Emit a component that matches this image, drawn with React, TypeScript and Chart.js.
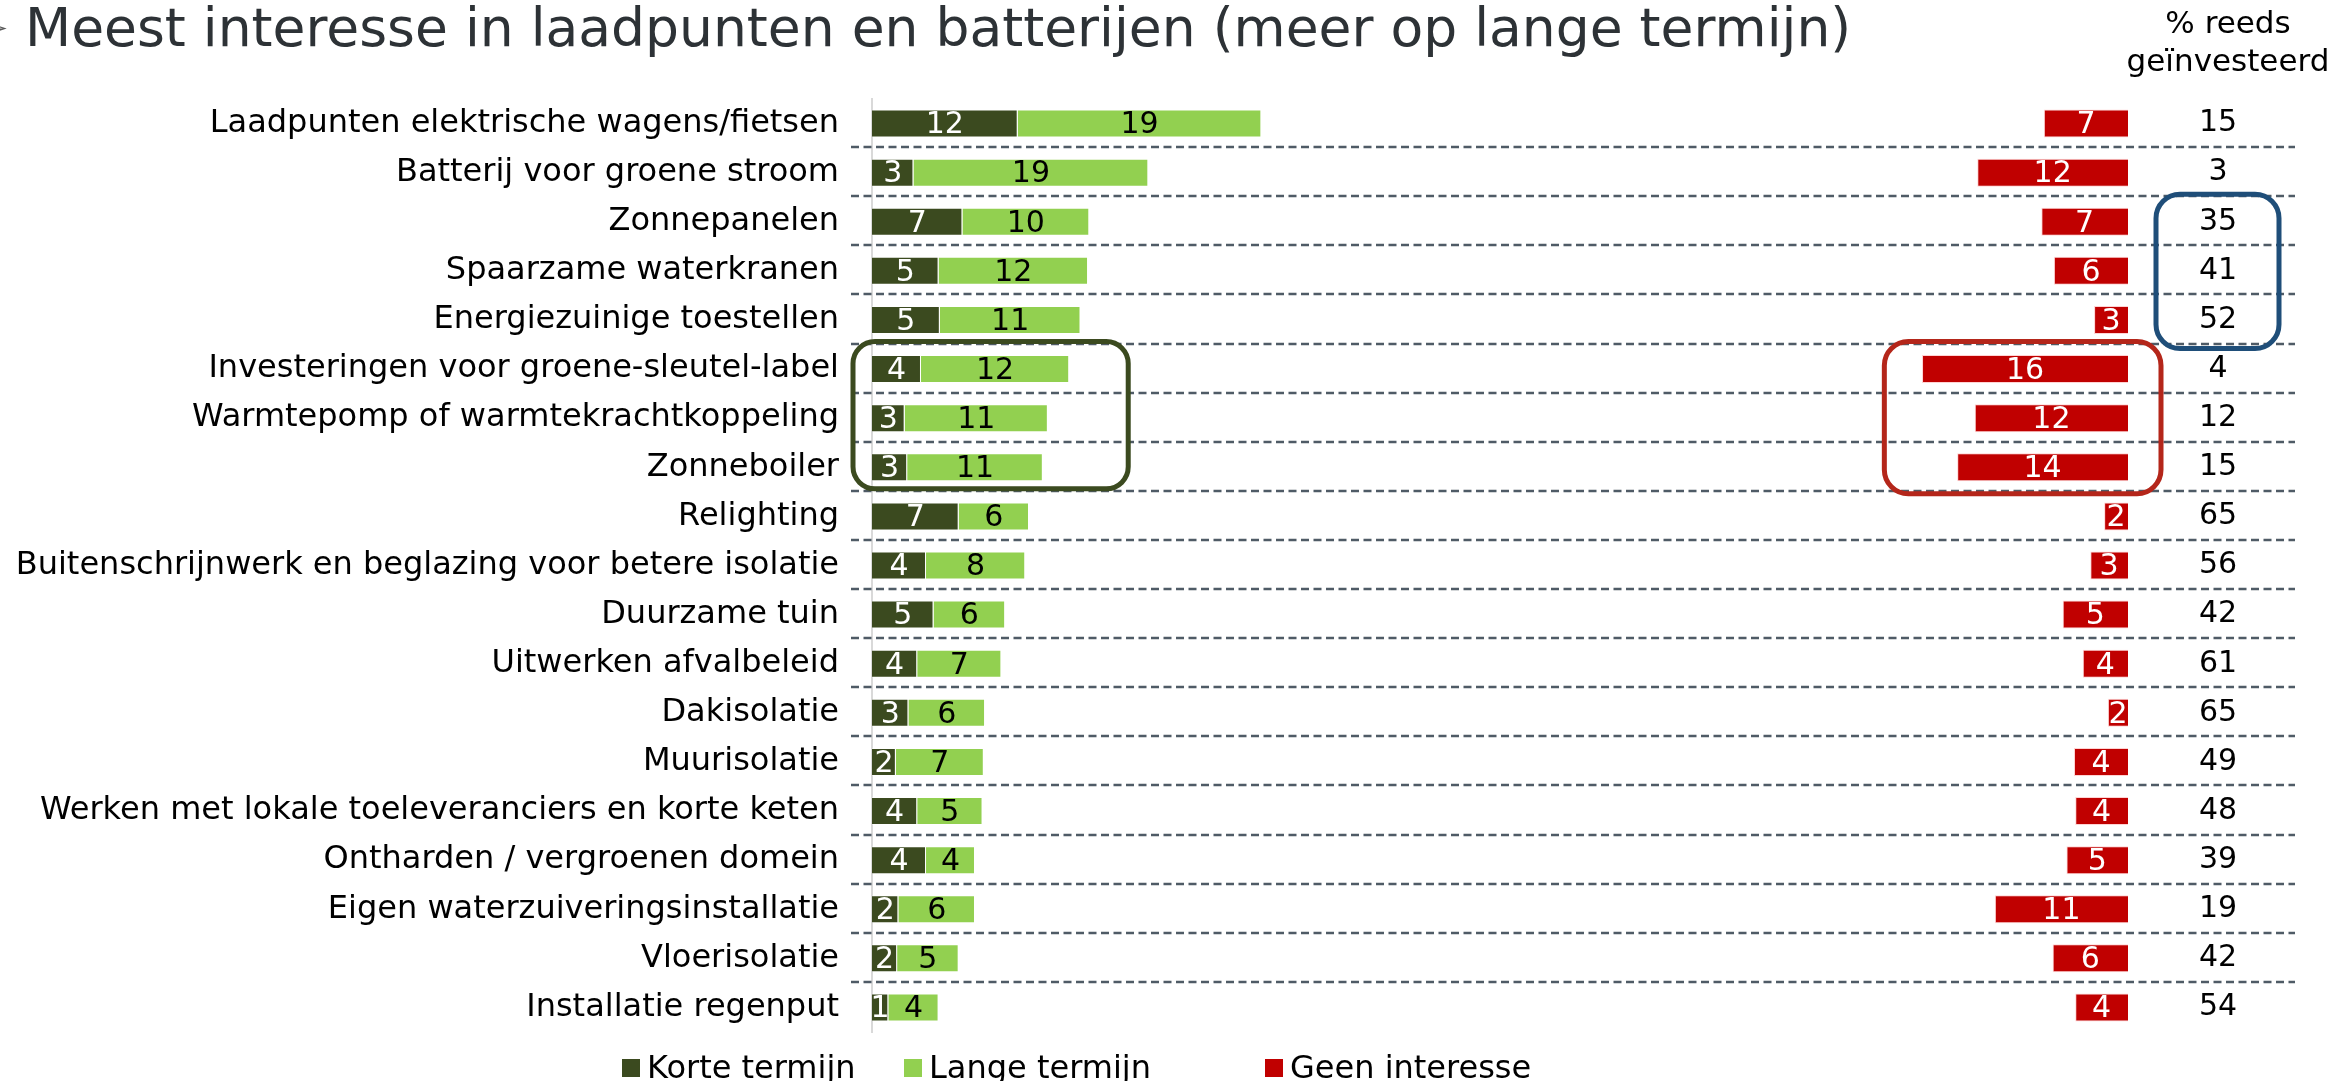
import React, { useEffect, useRef } from 'react';
import { Chart, registerables } from 'chart.js';

Chart.register(...registerables);

const categories = [
  'Laadpunten elektrische wagens/fietsen',
  'Batterij voor groene stroom',
  'Zonnepanelen',
  'Spaarzame waterkranen',
  'Energiezuinige toestellen',
  'Investeringen voor groene-sleutel-label',
  'Warmtepomp of warmtekrachtkoppeling',
  'Zonneboiler',
  'Relighting',
  'Buitenschrijnwerk en beglazing voor betere isolatie',
  'Duurzame tuin',
  'Uitwerken afvalbeleid',
  'Dakisolatie',
  'Muurisolatie',
  'Werken met lokale toeleveranciers en korte keten',
  'Ontharden / vergroenen domein',
  'Eigen waterzuiveringsinstallatie',
  'Vloerisolatie',
  'Installatie regenput',
];

const korteTermijn = [11.6, 3.3, 7.2, 5.3, 5.4, 3.9, 2.6, 2.8, 6.9, 4.3, 4.9, 3.6, 2.9, 1.9, 3.6, 4.3, 2.1, 2.0, 1.3];
const langeTermijn = [19.4, 18.7, 10.1, 11.9, 11.2, 11.8, 11.4, 10.8, 5.6, 7.9, 5.7, 6.7, 6.1, 7.0, 5.2, 3.9, 6.1, 4.9, 4.0];
const geenInteresse = [6.7, 12.0, 6.9, 5.9, 2.7, 16.4, 12.2, 13.6, 1.9, 3.0, 5.2, 3.6, 1.6, 4.3, 4.2, 4.9, 10.6, 6.0, 4.2];
const reedsGeinvesteerd = [15, 3, 35, 41, 52, 4, 12, 15, 65, 56, 42, 61, 65, 49, 48, 39, 19, 42, 54];

const seriesNames = ['Korte termijn', 'Lange termijn', 'Geen interesse'];
const titleText = 'Meest interesse in laadpunten en batterijen (meer op lange termijn)';
const headerLines = ['% reeds', 'geïnvesteerd'];

const DARK = '#3B4A1F';
const LIGHT = '#92D050';
const RED = '#C00000';
const seriesColors = [DARK, LIGHT, RED];
const valueTextColors = ['#FFFFFF', '#000000', '#FFFFFF'];
const FONT = '"DejaVu Sans", Verdana, sans-serif';

function roundRectPath(ctx: CanvasRenderingContext2D, x: number, y: number, w: number, h: number, r: number) {
  ctx.beginPath();
  ctx.moveTo(x + r, y);
  ctx.lineTo(x + w - r, y);
  ctx.arcTo(x + w, y, x + w, y + r, r);
  ctx.lineTo(x + w, y + h - r);
  ctx.arcTo(x + w, y + h, x + w - r, y + h, r);
  ctx.lineTo(x + r, y + h);
  ctx.arcTo(x, y + h, x, y + h - r, r);
  ctx.lineTo(x, y + r);
  ctx.arcTo(x, y, x + r, y, r);
  ctx.closePath();
}

const decorations = {
  id: 'decorations',
  beforeDatasetsDraw(chart: any) {
    const { ctx, chartArea } = chart;
    const yS = chart.scales.y;
    ctx.save();
    ctx.strokeStyle = '#4F5B66';
    ctx.lineWidth = 2.5;
    ctx.setLineDash([8, 4.5]);
    for (let i = 0; i < categories.length - 1; i++) {
      const yy = Math.round((yS.getPixelForValue(i) + yS.getPixelForValue(i + 1)) / 2 - 1);
      ctx.beginPath();
      ctx.moveTo(chartArea.left - 21, yy);
      ctx.lineTo(chartArea.right + 167, yy);
      ctx.stroke();
    }
    ctx.restore();
  },
  afterDatasetsDraw(chart: any) {
    const { ctx, chartArea } = chart;
    const yS = chart.scales.y;
    const xS = chart.scales.x;
    const x2S = chart.scales.x2;
    ctx.save();
    ctx.font = `30px ${FONT}`;
    ctx.textAlign = 'center';
    ctx.textBaseline = 'middle';
    chart.data.datasets.forEach((ds: any, di: number) => {
      const meta = chart.getDatasetMeta(di);
      meta.data.forEach((el: any, i: number) => {
        const p = el.getCenterPoint();
        ctx.fillStyle = valueTextColors[di];
        ctx.fillText(String(Math.round(ds.data[i])), p.x, p.y + 2);
      });
    });
    ctx.restore();

    const half = (yS.getPixelForValue(1) - yS.getPixelForValue(0)) / 2;
    ctx.save();
    ctx.lineWidth = 5;
    {
      const left = xS.getPixelForValue(0) - 19;
      const right = xS.getPixelForValue(20.4);
      const top = yS.getPixelForValue(5) - half - 3;
      const bottom = yS.getPixelForValue(7) + half - 3;
      ctx.strokeStyle = '#3B4A1F';
      roundRectPath(ctx, left, top, right - left, bottom - top, 22);
      ctx.stroke();
    }
    {
      const left = x2S.getPixelForValue(19.4);
      const right = x2S.getPixelForValue(0) + 33;
      const top = yS.getPixelForValue(5) - half - 3;
      const bottom = yS.getPixelForValue(7) + half + 2;
      ctx.strokeStyle = '#B4261A';
      roundRectPath(ctx, left, top, right - left, bottom - top, 24);
      ctx.stroke();
    }
    {
      const left = chartArea.right + 28;
      const right = chartArea.right + 151;
      const top = yS.getPixelForValue(2) - half - 3;
      const bottom = yS.getPixelForValue(4) + half + 4;
      ctx.strokeStyle = '#1F4E79';
      roundRectPath(ctx, left, top, right - left, bottom - top, 24);
      ctx.stroke();
    }
    ctx.restore();
  },
  afterDraw(chart: any) {
    const { ctx, chartArea } = chart;
    ctx.save();
    ctx.fillStyle = '#595959';
    ctx.font = `30px ${FONT}`;
    ctx.textBaseline = 'alphabetic';
    ctx.textAlign = 'left';
    ctx.fillText('➢', -17, 38);
    ctx.fillStyle = '#2D3236';
    ctx.font = `53.5px ${FONT}`;
    ctx.fillText(titleText, 25, 46);

    ctx.fillStyle = '#000000';
    ctx.font = `31px ${FONT}`;
    ctx.textAlign = 'center';
    ctx.fillText(headerLines[0], chartArea.right + 100, 33);
    ctx.fillText(headerLines[1], chartArea.right + 100, 71);

    const legendX = [622, 904, 1265];
    ctx.textAlign = 'left';
    ctx.font = `32px ${FONT}`;
    seriesNames.forEach((name, i) => {
      ctx.fillStyle = seriesColors[i];
      ctx.fillRect(legendX[i], 1059, 18, 18);
      ctx.fillStyle = '#000000';
      ctx.fillText(name, legendX[i] + 25, 1078);
    });
    ctx.restore();
  },
};

export default function App() {
  const canvasRef = useRef<HTMLCanvasElement | null>(null);

  useEffect(() => {
    document.body.style.margin = '0';
    document.body.style.overflow = 'hidden';
    const canvas = canvasRef.current;
    if (!canvas) return;
    Chart.defaults.font.family = FONT;
    const chart = new Chart(canvas, {
      type: 'bar',
      data: {
        labels: categories,
        datasets: [
          {
            label: seriesNames[0],
            data: korteTermijn,
            backgroundColor: DARK,
            borderColor: 'rgba(255,255,255,0.35)',
            borderWidth: 1,
            xAxisID: 'x',
            yAxisID: 'y',
          },
          {
            label: seriesNames[1],
            data: langeTermijn,
            backgroundColor: LIGHT,
            borderColor: 'rgba(255,255,255,0.35)',
            borderWidth: 1,
            xAxisID: 'x',
            yAxisID: 'y',
          },
          {
            label: seriesNames[2],
            data: geenInteresse,
            backgroundColor: RED,
            borderColor: 'rgba(255,200,200,0.8)',
            borderWidth: 1,
            xAxisID: 'x2',
            yAxisID: 'y',
          },
        ],
      },
      options: {
        indexAxis: 'y',
        responsive: false,
        animation: false,
        devicePixelRatio: 1,
        layout: { padding: { top: 99, bottom: 49, left: 0, right: 0 } },
        datasets: { bar: { categoryPercentage: 1, barPercentage: 0.57 } },
        plugins: {
          legend: { display: false },
          tooltip: { enabled: false },
          title: { display: false },
        },
        scales: {
          x: { type: 'linear', display: false, min: 0, max: 100, stacked: true },
          x2: { type: 'linear', display: false, min: 0, max: 100, reverse: true },
          y: {
            type: 'category',
            position: 'left',
            stacked: true,
            offset: true,
            grid: { display: false, drawTicks: false },
            border: { display: true, color: '#D9D9D9', width: 2 },
            ticks: {
              autoSkip: false,
              padding: 33,
              color: '#000000',
              font: { size: 32, family: FONT },
            },
            afterFit: (s: any) => { s.width = 872; s.paddingTop = 0; s.paddingBottom = 0; },
          },
          y2: {
            type: 'category',
            position: 'right',
            labels: reedsGeinvesteerd.map(String),
            offset: true,
            grid: { display: false, drawTicks: false },
            border: { display: false },
            ticks: {
              autoSkip: false,
              crossAlign: 'center',
              padding: 71,
              color: '#000000',
              font: { size: 30, family: FONT },
            },
            afterFit: (s: any) => { s.width = 221; s.paddingTop = 0; s.paddingBottom = 0; },
          },
        },
      } as any,
      plugins: [decorations],
    });
    return () => chart.destroy();
  }, []);

  return (
    <div style={{ position: 'relative', width: 2349, height: 1081 }}>
      <canvas
        ref={canvasRef}
        width={2349}
        height={1081}
        style={{ position: 'absolute', left: 0, top: 0, width: 2349, height: 1081, display: 'block' }}
      />
    </div>
  );
}
